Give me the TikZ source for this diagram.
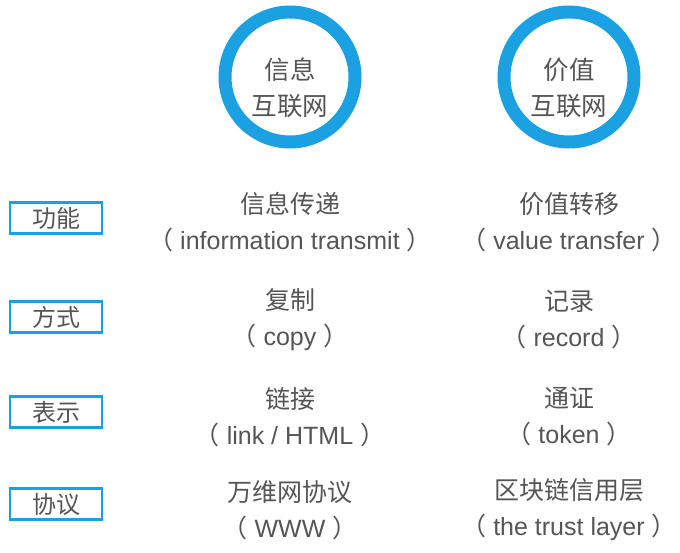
\documentclass[tikz,border=0pt]{standalone}
\usepackage{fontspec}
\setmainfont{Noto Sans CJK SC}
\newfontfamily\latfont{Liberation Sans}
\newcommand{\lt}[1]{{\latfont #1}}
\definecolor{ringblue}{RGB}{27,160,226}
\definecolor{txtgray}{RGB}{85,85,85}
\begin{document}
\begin{tikzpicture}[x=1pt,y=-1pt,
  ring/.style={circle,draw=ringblue,line width=13pt,minimum size=130pt,inner sep=0pt},
  ringtext/.style={align=center,font=\fontsize{25.5}{36}\selectfont,text=txtgray},
  label box/.style={draw=ringblue,line width=2.5pt,fill=white,minimum width=92pt,minimum height=31pt,inner sep=0pt,font=\fontsize{24}{28}\selectfont,text=txtgray},
  item/.style={align=center,font=\fontsize{25}{36}\selectfont,text=txtgray}]
\useasboundingbox (0,0) rectangle (680,552);
\node[ring] (info) at (290,77) {};
\node[ringtext] (infot) at (290,88) {信息\\互联网};
\node[ring] (value) at (569,77) {};
\node[ringtext] (valuet) at (569,88) {价值\\互联网};
\node[label box] (f1) at (56,218) {功能};
\node[label box] (f2) at (56,317) {方式};
\node[label box] (f3) at (56,412) {表示};
\node[label box] (f4) at (56,504) {协议};
\node[item] (a1) at (290,222) {信息传递\\（\lt{ information transmit }）};
\node[item] (b1) at (569,222) {价值转移\\（\lt{ value transfer }）};
\node[item] (a2) at (290,320) {复制\\（\lt{ copy }）};
\node[item] (b2) at (569,320) {记录\\（\lt{ record }）};
\node[item] (a3) at (290,417) {链接\\（\lt{ link / HTML }）};
\node[item] (b3) at (569,417) {通证\\（\lt{ token }）};
\node[item] (a4) at (290,510) {万维网协议\\（\lt{ WWW }）};
\node[item] (b4) at (569,510) {区块链信用层\\（\lt{ the trust layer }）};
\end{tikzpicture}
\end{document}
